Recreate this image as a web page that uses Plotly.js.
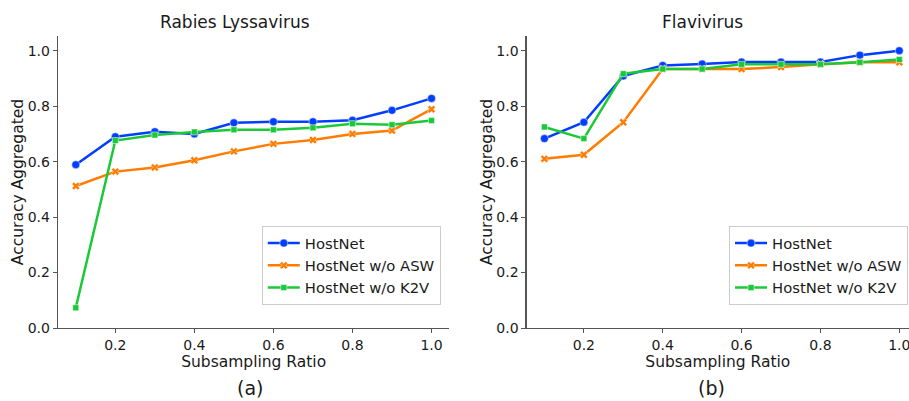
<!DOCTYPE html>
<html>
<head>
<meta charset="utf-8">
<script src="https://cdn.plot.ly/plotly-3.0.1.min.js"></script>
<style>html,body{margin:0;padding:0;background:#fff;}#chart{width:909px;height:401px;}</style>
</head>
<body>
<div id="chart"></div>
<script>
const ratios = [0.1, 0.2, 0.3, 0.4, 0.5, 0.6, 0.7, 0.8, 0.9, 1.0];
const seriesNames = ["HostNet", "HostNet w/o ASW", "HostNet w/o K2V"];
const panelTitles = ["Rabies Lyssavirus", "Flavivirus"];
const panelTags = ["(a)", "(b)"];
const xTickVals = [0.2, 0.4, 0.6, 0.8, 1.0];
const yTickVals = [0.0, 0.2, 0.4, 0.6, 0.8, 1.0];

// Rabies Lyssavirus
const rabiesHostNet = [0.589, 0.690, 0.708, 0.700, 0.740, 0.744, 0.744, 0.749, 0.785, 0.828];
const rabiesNoASW   = [0.512, 0.564, 0.579, 0.605, 0.637, 0.664, 0.678, 0.700, 0.712, 0.789];
const rabiesNoK2V   = [0.073, 0.676, 0.696, 0.707, 0.715, 0.715, 0.722, 0.737, 0.733, 0.748];

// Flavivirus
const flaviHostNet = [0.683, 0.742, 0.909, 0.947, 0.952, 0.959, 0.959, 0.959, 0.984, 1.000];
const flaviNoASW   = [0.610, 0.625, 0.742, 0.934, 0.934, 0.934, 0.941, 0.951, 0.958, 0.958];
const flaviNoK2V   = [0.725, 0.683, 0.917, 0.934, 0.934, 0.951, 0.951, 0.951, 0.958, 0.968];

const colors = ["#023eff", "#ff7c00", "#1ac938"];
const symbols = ["circle", "x", "square"];
const sizes = [8, 7, 6];
const FONT = "DejaVu Sans, sans-serif";
const TXT = "#1a1a1a";
const AX = "#555555";

function mk(yvals, i, xa, ya, leg) {
  return {
    x: ratios, y: yvals, name: seriesNames[i], type: "scatter", mode: "lines+markers",
    xaxis: xa, yaxis: ya, legend: leg,
    line: {color: colors[i], width: 2.5},
    marker: {symbol: symbols[i], size: sizes[i], color: colors[i], line: {color: "#ffffff", width: 0.5}}
  };
}

const data = [
  mk(rabiesHostNet, 0, "x", "y", "legend"),
  mk(rabiesNoASW, 1, "x", "y", "legend"),
  mk(rabiesNoK2V, 2, "x", "y", "legend"),
  mk(flaviHostNet, 0, "x2", "y2", "legend2"),
  mk(flaviNoASW, 1, "x2", "y2", "legend2"),
  mk(flaviNoK2V, 2, "x2", "y2", "legend2")
];

function xax(domain, range, anchor) {
  return {
    domain: domain, range: range, anchor: anchor, automargin: false,
    tickvals: xTickVals, tickformat: ".1f", ticklabeloverflow: "allow",
    showline: true, linecolor: AX, linewidth: 1.25,
    ticks: "outside", ticklen: 4, tickcolor: AX, tickwidth: 1,
    showgrid: false, zeroline: false,
    tickfont: {family: FONT, size: 14, color: TXT},
    title: {text: "Subsampling Ratio", font: {family: FONT, size: 15.5, color: TXT}, standoff: 2}
  };
}
function yax(domain, anchor) {
  return {
    domain: domain, range: [0, 1.053], anchor: anchor, automargin: false,
    tickvals: yTickVals, tickformat: ".1f",
    showline: true, linecolor: AX, linewidth: 1.25,
    ticks: "outside", ticklen: 4, tickcolor: AX, tickwidth: 1,
    showgrid: false, zeroline: false,
    tickfont: {family: FONT, size: 14, color: TXT},
    title: {text: "Accuracy Aggregated", font: {family: FONT, size: 15.5, color: TXT}, standoff: 0}
  };
}

const legendBase = {
  yanchor: "top", xanchor: "left", y: 0.4364,
  bgcolor: "rgba(255,255,255,0.8)", bordercolor: "#cccccc", borderwidth: 1,
  tracegroupgap: 0, itemwidth: 32,
  font: {family: FONT, size: 14.8, color: TXT}
};

const layout = {
  width: 909, height: 401,
  margin: {l: 0, r: 0, t: 0, b: 0, autoexpand: false},
  paper_bgcolor: "#ffffff", plot_bgcolor: "#ffffff",
  showlegend: true,
  xaxis: xax([0.0638, 0.4943], [0.055, 1.045], "y"),
  yaxis: yax([0.182, 0.9102], "x"),
  xaxis2: xax([0.5794, 1.0], [0.055, 1.0246], "y2"),
  yaxis2: yax([0.182, 0.9102], "x2"),
  legend: Object.assign({}, legendBase, {x: 0.288}),
  legend2: Object.assign({}, legendBase, {x: 0.802}),
  annotations: [
    {text: panelTitles[0], xref: "paper", yref: "paper", x: 234.5 / 909, y: 1 - 22 / 401, showarrow: false, xanchor: "center", yanchor: "middle", font: {family: FONT, size: 17, color: TXT}},
    {text: panelTitles[1], xref: "paper", yref: "paper", x: 702 / 909, y: 1 - 22 / 401, showarrow: false, xanchor: "center", yanchor: "middle", font: {family: FONT, size: 17, color: TXT}},
    {text: panelTags[0], xref: "paper", yref: "paper", x: 250 / 909, y: 1 - 388 / 401, showarrow: false, xanchor: "center", yanchor: "middle", font: {family: FONT, size: 19, color: TXT}},
    {text: panelTags[1], xref: "paper", yref: "paper", x: 711 / 909, y: 1 - 388 / 401, showarrow: false, xanchor: "center", yanchor: "middle", font: {family: FONT, size: 19, color: TXT}}
  ]
};

Plotly.newPlot("chart", data, layout, {displayModeBar: false, staticPlot: true});
</script>
</body>
</html>
